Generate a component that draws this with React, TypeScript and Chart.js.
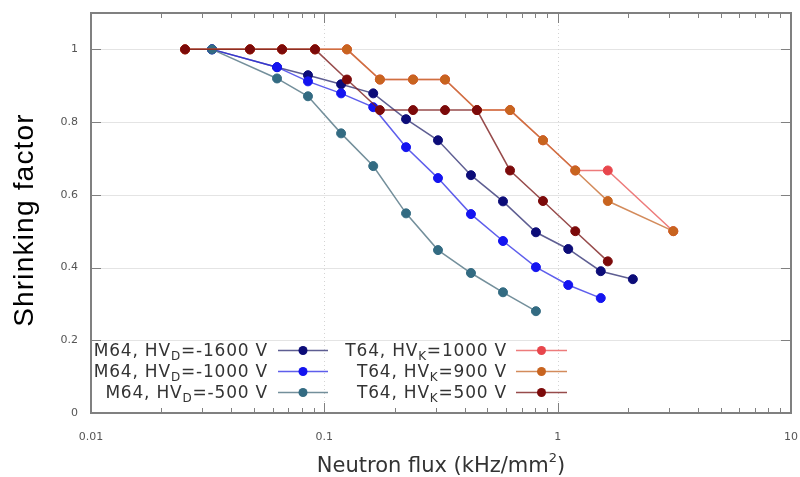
import React, { useEffect, useRef } from "react";
import { Chart, registerables } from "chart.js";

Chart.register(...registerables);

// ---- data ----
const m64Flux = [0.033, 0.0627, 0.0851, 0.118, 0.162, 0.224, 0.307, 0.425, 0.583, 0.807, 1.11, 1.53, 2.1];
const m64Hv1600 = [1.0, 0.951, 0.929, 0.904, 0.879, 0.808, 0.75, 0.654, 0.582, 0.497, 0.451, 0.39, 0.368];
const m64Hv1000 = [1.0, 0.951, 0.912, 0.879, 0.841, 0.731, 0.646, 0.547, 0.473, 0.401, 0.352, 0.316];
const m64Hv500 = [1.0, 0.92, 0.871, 0.769, 0.679, 0.549, 0.448, 0.385, 0.332, 0.28];

const t64Flux = [0.0253, 0.048, 0.0659, 0.0912, 0.125, 0.173, 0.24, 0.329, 0.451, 0.625, 0.865, 1.19, 1.64, 3.13];
const t64Hv1000 = [1, 1, 1, 1, 1, 0.917, 0.917, 0.917, 0.833, 0.833, 0.75, 0.667, 0.667, 0.5];
const t64Hv900 = [1, 1, 1, 1, 1, 0.917, 0.917, 0.917, 0.833, 0.833, 0.75, 0.667, 0.583, 0.5];
const t64Hv500 = [1, 1, 1, 1, 0.917, 0.833, 0.833, 0.833, 0.833, 0.667, 0.583, 0.5, 0.417];

const xMajorValues = [0.01, 0.1, 1, 10];
const xTickLabels = ["0.01", "0.1", "1", "10"];
const yTickValues = [0, 0.2, 0.4, 0.6, 0.8, 1];
const yTickLabels = ["0", "0.2", "0.4", "0.6", "0.8", "1"];

const seriesLabelPre = ["M64, HV", "M64, HV", "M64, HV", "T64, HV", "T64, HV", "T64, HV"];
const seriesLabelSub = ["D", "D", "D", "K", "K", "K"];
const seriesLabelPost = ["=-1600 V", "=-1000 V", "=-500 V", "=1000 V", "=900 V", "=500 V"];
const seriesColors = ["#0c0c78", "#1414f0", "#336b82", "#e8464c", "#c8641f", "#7c0a0a"];
const lineColors = ["rgba(40,40,110,0.75)", "rgba(40,40,230,0.75)", "rgba(80,115,130,0.8)", "rgba(232,90,90,0.8)", "rgba(200,110,50,0.8)", "rgba(125,30,30,0.8)"];

const xTitle = "Neutron flux (kHz/mm";
const xTitleSup = "2";
const xTitleEnd = ")";
const yTitle = "Shrinking factor";

function xTicksAll(): number[] {
  const out: number[] = [];
  for (let d = 0.01; d < 10; d *= 10) {
    for (let k = 1; k <= 9; k++) out.push(+(d * k).toPrecision(3));
  }
  out.push(10);
  return out;
}

function pts(xs: number[], ys: number[]) {
  return ys.map((y, i) => ({ x: xs[i], y }));
}

const frameColor = "#808080";

const framePlugin = {
  id: "frameAndLegend",
  beforeDatasetsDraw(chart: any) {
    const { ctx, chartArea, scales } = chart;
    const { left, right, top, bottom } = chartArea;
    ctx.save();
    ctx.lineWidth = 1;
    ctx.strokeStyle = "#e4e4e4";
    for (const v of yTickValues) {
      if (v === 0) continue;
      const py = Math.round(scales.y.getPixelForValue(v)) + 0.5;
      ctx.beginPath();
      ctx.moveTo(left, py);
      ctx.lineTo(right, py);
      ctx.stroke();
    }
    ctx.strokeStyle = "#d4d4d4";
    ctx.setLineDash([1, 3]);
    for (const v of [0.1, 1]) {
      const px = Math.round(scales.x.getPixelForValue(v)) + 0.5;
      ctx.beginPath();
      ctx.moveTo(px, top);
      ctx.lineTo(px, bottom);
      ctx.stroke();
    }
    ctx.restore();
  },
  afterDatasetsDraw(chart: any) {
    const { ctx, chartArea, scales } = chart;
    const { left, right, top, bottom } = chartArea;
    ctx.save();
    // ticks
    ctx.strokeStyle = frameColor;
    ctx.lineWidth = 1;
    for (const v of xTicksAll()) {
      const px = Math.round(scales.x.getPixelForValue(v)) + 0.5;
      const major = xMajorValues.some((m) => Math.abs(m - v) / m < 1e-6);
      const len = major ? 10 : 5;
      ctx.beginPath();
      ctx.moveTo(px, bottom);
      ctx.lineTo(px, bottom - len);
      ctx.moveTo(px, top);
      ctx.lineTo(px, top + len);
      ctx.stroke();
    }
    for (const v of yTickValues) {
      const py = Math.round(scales.y.getPixelForValue(v)) + 0.5;
      ctx.beginPath();
      ctx.moveTo(left, py);
      ctx.lineTo(left + 10, py);
      ctx.moveTo(right, py);
      ctx.lineTo(right - 10, py);
      ctx.stroke();
    }
    // frame
    ctx.lineWidth = 2;
    ctx.strokeRect(left, top, right - left, bottom - top);

    // legend
    const rows = [350, 371, 392];
    const cols = [
      { textRight: 268, s1: 278, s2: 328 },
      { textRight: 507, s1: 516, s2: 567 },
    ];
    const big = '17px "DejaVu Sans"';
    const small = '12px "DejaVu Sans"';
    for (let i = 0; i < 6; i++) {
      const col = cols[Math.floor(i / 3)];
      const yc = rows[i % 3];
      (ctx as any).letterSpacing = "0.8px";
      ctx.font = big;
      const wPre = ctx.measureText(seriesLabelPre[i]).width;
      const wPost = ctx.measureText(seriesLabelPost[i]).width;
      ctx.font = small;
      const wSub = ctx.measureText(seriesLabelSub[i]).width;
      const x0 = col.textRight - (wPre + wSub + wPost);
      ctx.fillStyle = "#333333";
      ctx.textAlign = "left";
      ctx.textBaseline = "alphabetic";
      ctx.font = big;
      ctx.fillText(seriesLabelPre[i], x0, yc + 6);
      ctx.font = small;
      ctx.fillText(seriesLabelSub[i], x0 + wPre, yc + 10);
      ctx.font = big;
      ctx.fillText(seriesLabelPost[i], x0 + wPre + wSub, yc + 6);
      (ctx as any).letterSpacing = "0px";
      ctx.strokeStyle = lineColors[i];
      ctx.lineWidth = 1.5;
      ctx.beginPath();
      ctx.moveTo(col.s1, yc + 0.5);
      ctx.lineTo(col.s2, yc + 0.5);
      ctx.stroke();
      ctx.fillStyle = seriesColors[i];
      ctx.beginPath();
      ctx.arc((col.s1 + col.s2) / 2, yc + 0.5, 4.5, 0, Math.PI * 2);
      ctx.fill();
    }

    // axis titles
    ctx.fillStyle = "#333333";
    const tBig = '21px "DejaVu Sans"';
    const tSmall = '13px "DejaVu Sans"';
    ctx.font = tBig;
    const w1 = ctx.measureText(xTitle).width;
    const w3 = ctx.measureText(xTitleEnd).width;
    ctx.font = tSmall;
    const w2 = ctx.measureText(xTitleSup).width;
    const cx = 441;
    const xs = cx - (w1 + w2 + w3) / 2;
    ctx.textAlign = "left";
    ctx.textBaseline = "alphabetic";
    ctx.font = tBig;
    ctx.fillText(xTitle, xs, 472);
    ctx.font = tSmall;
    ctx.fillText(xTitleSup, xs + w1, 462);
    ctx.font = tBig;
    ctx.fillText(xTitleEnd, xs + w1 + w2, 472);

    ctx.translate(25, 220);
    ctx.rotate(-Math.PI / 2);
    ctx.fillStyle = "#000000";
    (ctx as any).letterSpacing = "1.2px";
    ctx.font = '28px "Liberation Sans"';
    ctx.textAlign = "center";
    ctx.textBaseline = "middle";
    ctx.fillText(yTitle, 0, 0);
    (ctx as any).letterSpacing = "0px";
    ctx.restore();
  },
};

export default function App() {
  const ref = useRef<HTMLCanvasElement | null>(null);
  useEffect(() => {
    document.body.style.margin = "0";
    const canvas = ref.current;
    if (!canvas) return;
    const series = [
      { xs: m64Flux, ys: m64Hv1600 },
      { xs: m64Flux, ys: m64Hv1000 },
      { xs: m64Flux, ys: m64Hv500 },
      { xs: t64Flux, ys: t64Hv1000 },
      { xs: t64Flux, ys: t64Hv900 },
      { xs: t64Flux, ys: t64Hv500 },
    ];
    const datasets = series.map((s, i) => ({
      label: seriesLabelPre[i] + seriesLabelSub[i] + seriesLabelPost[i],
      data: pts(s.xs, s.ys),
      borderColor: lineColors[i],
      backgroundColor: seriesColors[i],
      pointBackgroundColor: seriesColors[i],
      pointBorderColor: seriesColors[i],
      pointBorderWidth: 1,
      pointRadius: 4.5,
      borderWidth: 1.5,
      showLine: true,
      tension: 0,
      order: 5 - i,
    }));
    const allX = xTicksAll();
    const chart = new Chart(canvas, {
      type: "scatter",
      data: { datasets },
      plugins: [framePlugin],
      options: {
        animation: false,
        responsive: false,
        layout: { padding: { left: 0, right: 9, top: 13, bottom: 0 } },
        plugins: { legend: { display: false }, tooltip: { enabled: false } },
        scales: {
          x: {
            type: "logarithmic",
            min: 0.01,
            max: 10,
            afterBuildTicks: (s: any) => {
              s.ticks = allX.map((v) => ({ value: v }));
            },
            afterFit: (s: any) => {
              s.height = 64;
              s.paddingLeft = 0;
              s.paddingRight = 0;
              s.paddingTop = 0;
              s.paddingBottom = 0;
            },
            grid: { display: false, drawTicks: false },
            border: { display: false },
            ticks: {
              autoSkip: false,
              maxRotation: 0,
              padding: 18,
              color: "#555555",
              font: { family: "DejaVu Sans", size: 11 },
              callback: (v: any) => {
                const idx = xMajorValues.findIndex((m) => Math.abs(m - Number(v)) / m < 1e-6);
                return idx >= 0 ? xTickLabels[idx] : "";
              },
            },
          },
          y: {
            type: "linear",
            min: 0,
            max: 1.1,
            afterBuildTicks: (s: any) => {
              s.ticks = yTickValues.map((v) => ({ value: v }));
            },
            afterFit: (s: any) => {
              s.width = 91;
              s.paddingLeft = 0;
              s.paddingRight = 0;
              s.paddingTop = 0;
              s.paddingBottom = 0;
            },
            grid: { display: false, drawTicks: false },
            border: { display: false },
            ticks: {
              padding: 13,
              color: "#555555",
              font: { family: "DejaVu Sans", size: 11 },
              callback: (v: any) => {
                const idx = yTickValues.findIndex((m) => Math.abs(m - Number(v)) < 1e-6);
                return idx >= 0 ? yTickLabels[idx] : "";
              },
            },
          },
        },
      },
    } as any);
    return () => chart.destroy();
  }, []);
  return (
    <div style={{ width: 800, height: 477, background: "#ffffff" }}>
      <canvas ref={ref} width={800} height={477} style={{ display: "block" }} />
    </div>
  );
}
